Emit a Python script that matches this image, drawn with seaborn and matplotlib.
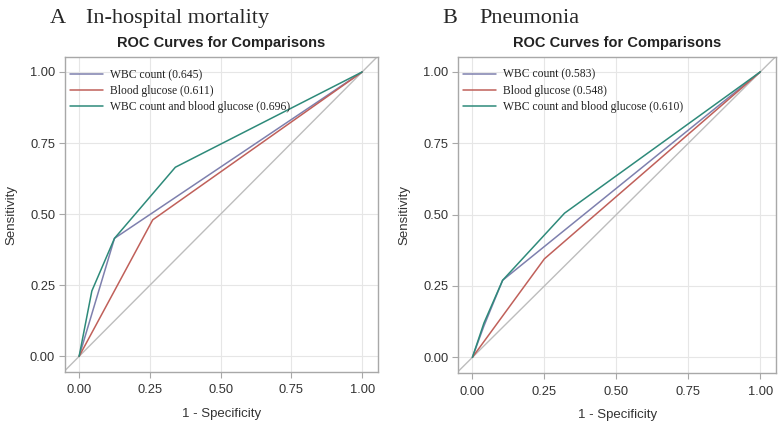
import matplotlib
matplotlib.use("Agg")
import matplotlib.pyplot as plt
import pandas as pd
import seaborn as sns

# panel A: in-hospital mortality
a_wbc_fpr = [0.0, 0.125, 1.0]
a_wbc_tpr = [0.0, 0.415, 1.0]
a_glu_fpr = [0.0, 0.26, 1.0]
a_glu_tpr = [0.0, 0.48, 1.0]
a_both_fpr = [0.0, 0.045, 0.125, 0.34, 1.0]
a_both_tpr = [0.0, 0.23, 0.415, 0.665, 1.0]
a_auc = ["0.645", "0.611", "0.696"]

# panel B: pneumonia
b_wbc_fpr = [0.0, 0.04, 0.105, 1.0]
b_wbc_tpr = [0.0, 0.11, 0.27, 1.0]
b_glu_fpr = [0.0, 0.25, 1.0]
b_glu_tpr = [0.0, 0.345, 1.0]
b_both_fpr = [0.0, 0.04, 0.105, 0.32, 1.0]
b_both_tpr = [0.0, 0.12, 0.27, 0.505, 1.0]
b_auc = ["0.583", "0.548", "0.610"]

names = ["WBC count", "Blood glucose", "WBC count and blood glucose"]
colors = ["#7E80AE", "#C0605A", "#2E8A7A"]
ticks = [0.0, 0.25, 0.5, 0.75, 1.0]


def make_frame(curves, aucs):
    rows = []
    for name, auc, (fpr, tpr) in zip(names, aucs, curves):
        label = f"{name} ({auc})"
        for i, (x, y) in enumerate(zip(fpr, tpr)):
            rows.append({"fpr": x, "tpr": y, "curve": label, "order": i})
    return pd.DataFrame(rows)


def draw_panel(ax, df, letter, title):
    labels = list(dict.fromkeys(df["curve"]))
    ax.plot([-0.1, 1.1], [-0.1, 1.1], color="#BDBDBD", lw=1.0, zorder=1)
    sns.lineplot(data=df, x="fpr", y="tpr", hue="curve", hue_order=labels,
                 palette=colors, sort=False, estimator=None, lw=1.1, ax=ax)
    ax.set_xlim(-0.05, 1.055)
    ax.set_ylim(-0.055, 1.052)
    ax.set_xticks(ticks)
    ax.set_yticks(ticks)
    ax.set_xticklabels([f"{t:.2f}" for t in ticks])
    ax.set_yticklabels([f"{t:.2f}" for t in ticks])
    ax.grid(True, color="#E6E6E6", lw=0.8)
    ax.set_axisbelow(True)
    for s in ax.spines.values():
        s.set_color("#A8A8A8")
        s.set_linewidth(1.0)
    ax.tick_params(axis="both", bottom=True, left=True, colors="#A8A8A8",
                   labelcolor="#333333", labelsize=9.3, length=4, width=0.8,
                   direction="out", pad=3)
    ax.tick_params(axis="x", pad=5)
    ax.set_xlabel("1 - Specificity", fontsize=9.5, color="#333333", labelpad=8)
    ax.set_ylabel("Sensitivity", fontsize=9.5, color="#333333", labelpad=9)
    ax.set_title("ROC Curves for Comparisons", fontsize=10.5, fontweight="bold",
                 color="#222222", pad=7)
    leg = ax.legend(loc="upper left", bbox_to_anchor=(-0.005, 0.985),
                    frameon=False,
                    prop={"family": "Liberation Serif", "size": 8.4},
                    handlelength=2.8, handletextpad=0.6, labelspacing=0.36,
                    borderaxespad=0.2)
    for t in leg.get_texts():
        t.set_color("#222222")
    bbox = ax.get_position()
    fig = ax.figure
    fig.text(bbox.x0 - 0.02, 0.955, letter, family="Liberation Serif",
             fontsize=16, va="center", ha="left")
    fig.text(bbox.x0 + 0.027, 0.955, title, family="Liberation Serif",
             fontsize=16, va="center", ha="left")


sns.set_style("whitegrid")
plt.rcParams["font.family"] = ["Liberation Sans", "DejaVu Sans"]
fig = plt.figure(figsize=(7.78, 4.22), dpi=100)
ax_a = fig.add_axes([0.0835, 0.1185, 0.402, 0.746])
ax_b = fig.add_axes([0.5887, 0.116, 0.409, 0.749])

df_a = make_frame([(a_wbc_fpr, a_wbc_tpr), (a_glu_fpr, a_glu_tpr),
                   (a_both_fpr, a_both_tpr)], a_auc)
df_b = make_frame([(b_wbc_fpr, b_wbc_tpr), (b_glu_fpr, b_glu_tpr),
                   (b_both_fpr, b_both_tpr)], b_auc)

draw_panel(ax_a, df_a, "A", "In-hospital mortality")
draw_panel(ax_b, df_b, "B", "Pneumonia")

fig.patch.set_facecolor("white")
fig.savefig("out.png", dpi=100)
